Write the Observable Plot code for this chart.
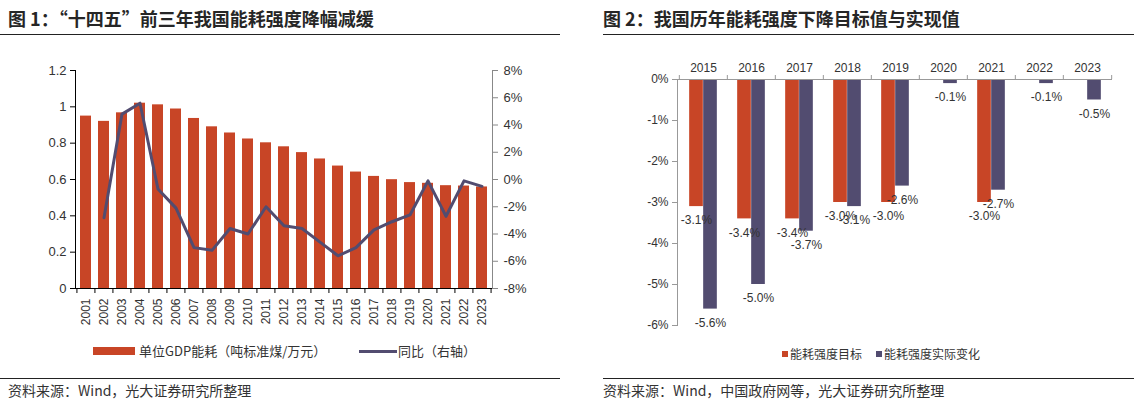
<!DOCTYPE html>
<html><head><meta charset="utf-8">
<script src="https://cdn.jsdelivr.net/npm/d3@7"></script>
<script src="https://cdn.jsdelivr.net/npm/@observablehq/plot@0.6"></script>
<style>
body{margin:0;width:1134px;height:404px;position:relative;background:#fff;overflow:hidden;font-family:"Noto Sans CJK SC","Noto Sans",sans-serif;color:#333}
.abs{position:absolute}
.title{font-size:18px;font-weight:bold;color:#262626;white-space:nowrap;line-height:20px}
.rule{height:0;border-top:1.5px solid #222}
.src{font-size:14px;color:#333;white-space:nowrap;line-height:16px}
.leg{font-size:13px;color:#333;white-space:nowrap;line-height:16px}
.leg2{font-size:12px;color:#333;white-space:nowrap;line-height:14px}
svg{overflow:visible}
</style></head>
<body>
<div class="abs title" style="left:8px;top:8px">图 1：“十四五”前三年我国能耗强度降幅减缓</div>
<div class="abs rule" style="left:0;top:34px;width:560px"></div>
<div class="abs title" style="left:603px;top:8px">图 2：我国历年能耗强度下降目标值与实现值</div>
<div class="abs rule" style="left:603px;top:34px;width:531px"></div>

<div id="c1" class="abs" style="left:0;top:40px"></div>
<div id="c2" class="abs" style="left:580px;top:40px"></div>

<div class="abs" style="left:93px;top:347px;width:42px;height:8px;background:#C84526"></div>
<div class="abs leg" style="left:139px;top:343px">单位GDP能耗（吨标准煤/万元）</div>
<div class="abs" style="left:359px;top:350px;width:38px;height:0;border-top:3px solid #524C70"></div>
<div class="abs leg" style="left:398px;top:343px">同比（右轴）</div>

<div class="abs" style="left:782px;top:351px;width:6px;height:6px;background:#C84526"></div>
<div class="abs leg2" style="left:790px;top:347px">能耗强度目标</div>
<div class="abs" style="left:876px;top:351px;width:6px;height:6px;background:#524C70"></div>
<div class="abs leg2" style="left:884px;top:347px">能耗强度实际变化</div>

<div class="abs rule" style="left:0;top:378px;width:560px"></div>
<div class="abs src" style="left:8px;top:382px">资料来源：Wind，光大证券研究所整理</div>
<div class="abs rule" style="left:603px;top:378px;width:531px"></div>
<div class="abs src" style="left:603px;top:382px">资料来源：Wind，中国政府网等，光大证券研究所整理</div>

<script>
// ---------- Data: chart 1 ----------
const years1 = [2001,2002,2003,2004,2005,2006,2007,2008,2009,2010,2011,2012,2013,2014,2015,2016,2017,2018,2019,2020,2021,2022,2023];
const intensity = [0.949,0.920,0.967,1.020,1.011,0.988,0.936,0.890,0.856,0.823,0.802,0.780,0.748,0.713,0.674,0.641,0.617,0.599,0.583,0.579,0.566,0.564,0.559];
const yoyPct = [null,-2.8,4.8,5.6,-0.7,-2.1,-5.0,-5.2,-3.6,-4.0,-2.0,-3.4,-3.6,-4.6,-5.6,-5.0,-3.7,-3.1,-2.6,-0.1,-2.7,-0.1,-0.5];
const leftTicks = [0,0.2,0.4,0.6,0.8,1,1.2];
const leftTickLabels = ["0","0.2","0.4","0.6","0.8","1","1.2"];
const rightTicks = [-8,-6,-4,-2,0,2,4,6,8];

// ---------- Data: chart 2 ----------
const years2 = [2015,2016,2017,2018,2019,2020,2021,2022,2023];
const targetPct = [-3.1,-3.4,-3.4,-3.0,-3.0,null,-3.0,null,null];
const actualPct = [-5.6,-5.0,-3.7,-3.1,-2.6,-0.1,-2.7,-0.1,-0.5];
const ticks2 = [0,-1,-2,-3,-4,-5,-6];

const RED = "#C84526", PURPLE = "#524C70";

// ---------- Chart 1 ----------
const data1 = years1.map((y,i)=>({year:y, value:intensity[i], yoy:yoyPct[i]}));
const W1=560,H1=290,ml1=75,mr1=68,mt1=30,mb1=42;
const step1 = (W1-ml1-mr1)/years1.length;
const leftMax = 1.2, rMin = -8, rMax = 8;
const pctToY = p => (p - rMin)/(rMax - rMin)*leftMax;
const yToPct = v => Math.round(v/leftMax*(rMax-rMin) + rMin);

const chart1 = Plot.plot({
  width:W1,height:H1,marginLeft:ml1,marginRight:mr1,marginTop:mt1,marginBottom:mb1,
  style:{fontFamily:"'Liberation Sans',Arial,sans-serif",fontSize:"13px",color:"#333",background:"transparent",overflow:"visible"},
  x:{type:"band",domain:years1,paddingInner:0.4,paddingOuter:0.2},
  y:{domain:[0,leftMax]},
  marks:[
    Plot.barY(data1,{x:"year",y:"value",fill:RED}),
    Plot.line(data1.filter(d=>d.yoy!=null),{x:"year",y:d=>pctToY(d.yoy),stroke:PURPLE,strokeWidth:3,strokeLinejoin:"round"}),
    Plot.ruleY([0],{stroke:"#000"}),
    Plot.frame({anchor:"left",stroke:"#000"}),
    Plot.frame({anchor:"right",stroke:"#888"}),
    Plot.ruleX(years1,{x:d=>d,y1:0,y2:0,insetBottom:-5,dx:-step1/2,stroke:"#000"}),
    Plot.ruleX([years1[years1.length-1]],{x:d=>d,y1:0,y2:0,insetBottom:-5,dx:step1/2,stroke:"#000"}),
    Plot.axisY({anchor:"left",ticks:leftTicks,tickFormat:d=>leftTickLabels[leftTicks.indexOf(d)] ?? String(d),tickSize:5,tickPadding:4,stroke:"#000",fill:"#333",label:null}),
    Plot.axisY({anchor:"right",ticks:rightTicks.map(pctToY),tickFormat:d=>yToPct(d)+"%",tickSize:5,tickPadding:6,stroke:"#888",fill:"#333",label:null}),
    Plot.axisX({anchor:"bottom",tickSize:0,tickRotate:-90,tickPadding:10,fontSize:"12px",fill:"#333",label:null,tickFormat:d=>String(d)})
  ]
});
document.getElementById("c1").appendChild(chart1);

// ---------- Chart 2 ----------
const tData = years2.map((y,i)=>({year:y,value:targetPct[i]})).filter(d=>d.value!=null);
const aData = years2.map((y,i)=>({year:y,value:actualPct[i]}));
const W2=554,H2=300,ml2=97,mr2=22,mt2=39,mb2=15;
const step2 = (W2-ml2-mr2)/years2.length;
const bw = 14;
const fmt = d => d.value.toFixed(1)+"%";

const chart2 = Plot.plot({
  width:W2,height:H2,marginLeft:ml2,marginRight:mr2,marginTop:mt2,marginBottom:mb2,
  style:{fontFamily:"'Liberation Sans',Arial,sans-serif",fontSize:"12px",color:"#333",background:"transparent",overflow:"visible"},
  x:{type:"band",domain:years2,padding:0},
  y:{domain:[-6,0]},
  marks:[
    Plot.barY(tData,{x:"year",y:"value",fill:RED,insetLeft:step2/2-bw,insetRight:step2/2}),
    Plot.barY(aData,{x:"year",y:"value",fill:PURPLE,insetLeft:step2/2,insetRight:step2/2-bw}),
    Plot.text(tData,{x:"year",y:"value",text:fmt,dx:-bw/2,dy:14,fill:"#333",fontSize:12}),
    Plot.text(aData,{x:"year",y:"value",text:fmt,dx:bw/2,dy:14,fill:"#333",fontSize:12}),
    Plot.ruleY([0],{stroke:"#999"}),
    Plot.frame({anchor:"left",stroke:"#999"}),
    Plot.ruleX(years2,{x:d=>d,y1:0,y2:0,insetTop:-4,dx:-step2/2,stroke:"#999"}),
    Plot.ruleX([years2[years2.length-1]],{x:d=>d,y1:0,y2:0,insetTop:-4,dx:step2/2,stroke:"#999"}),
    Plot.axisY({anchor:"left",ticks:ticks2,tickFormat:d=>d+"%",tickSize:5,tickPadding:4,stroke:"#999",fill:"#333",label:null}),
    Plot.axisX({anchor:"top",tickSize:0,tickPadding:8,fill:"#333",label:null,tickFormat:d=>String(d)})
  ]
});
document.getElementById("c2").appendChild(chart2);
</script>
</body></html>
